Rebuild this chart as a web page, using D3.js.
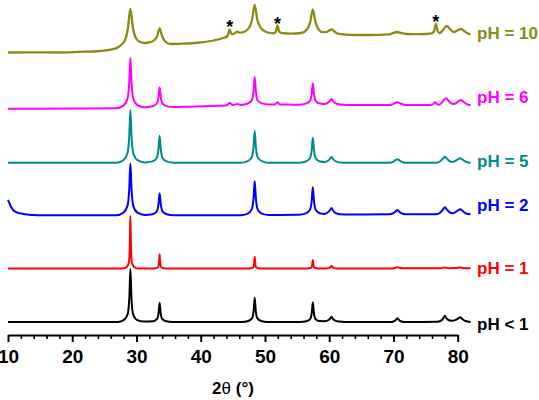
<!DOCTYPE html>
<html>
<head>
<meta charset="utf-8">
<script src="https://cdn.jsdelivr.net/npm/d3@7"></script>
<style>
  html, body { margin: 0; padding: 0; background: #fff; }
  svg { display: block; }
  text { font-family: Arial, "Liberation Sans", sans-serif; font-weight: bold; }
</style>
</head>
<body>
<svg id="chart" width="539" height="400"></svg>
<script>
// ---------- DATA ----------
const seriesLabels = ["pH < 1", "pH = 1", "pH = 2", "pH = 5", "pH = 6", "pH = 10"];
// vertical stacking offsets (a.u.)
const seriesOffsets = [13, 66.4, 119.7, 172.2, 226.3, 282.5];
const xTickValues = [10, 20, 30, 40, 50, 60, 70, 80];
const xMinorTickValues = [12,14,16,18,22,24,26,28,32,34,36,38,42,44,46,48,52,54,56,58,62,64,66,68,72,74,76,78];
// impurity peaks marked with * (2θ) on the pH = 10 pattern
const starPositions = [44.5, 51.95, 76.6];

// [2θ, intensity a.u.] relative to each series' baseline
const dataPHlt1 = [
  [10,0],[20,0],[27.05,0],[28.05,2.1],[28.65,8.5],[28.9,26.5],[29.05,53],[29.2,26.5],[29.45,8.5],[30.05,2.1],[31.1,0.4],
  [32.6,0.8],[33.2,3.1],[33.45,9.7],[33.6,19.3],[33.75,9.7],[34.0,3.1],[34.6,0.8],[35.6,0],
  [46.4,0],[47.4,1.0],[48.0,3.9],[48.25,12.2],[48.4,24.3],[48.55,12.2],[48.8,3.9],[49.4,1.0],[50.4,0],
  [55.45,0],[56.45,0.8],[57.05,3.2],[57.3,9.9],[57.45,19.7],[57.6,9.9],[57.85,3.2],[58.45,0.9],[59.3,0.8],
  [59.9,2.0],[60.2,3.8],[60.35,5.3],[60.5,3.8],[60.85,1.6],[61.5,0.4],[62.5,0],
  [69.6,0],[70.2,1.2],[70.45,2.8],[70.6,3.7],[70.75,2.8],[71.0,1.2],[71.7,0],
  [76.8,0.2],[77.4,1.4],[77.75,3.6],[78.0,6.3],[78.25,3.6],[78.65,1.8],[79.1,1.3],[79.6,1.9],[80.05,3.3],[80.4,4.7],[80.7,3.0],[81.2,1.0],[82,0]
];
const dataPH1 = [
  [10,0],[20,0],[27.85,0],[28.45,1.6],[28.83,6.3],[28.97,26.3],[29.05,52.6],[29.13,26.3],[29.27,6.3],[29.65,1.6],[30.25,0],
  [32.4,0],[33.0,0.4],[33.38,1.7],[33.52,7.2],[33.6,14.3],[33.68,7.2],[33.82,1.7],[34.2,0.4],[34.8,0],
  [47.2,0.1],[47.8,0.4],[48.18,1.4],[48.32,6],[48.4,11.9],[48.48,6],[48.62,1.4],[49.0,0.4],[49.6,0.1],
  [56.25,0.2],[56.85,0.4],[57.23,1.0],[57.37,4.3],[57.45,8.6],[57.53,4.3],[57.67,1.0],[58.05,0.4],[58.65,0.2],
  [59.6,0.2],[60.1,0.9],[60.35,2.9],[60.6,0.9],[61.1,0.2],
  [69.9,0.2],[70.6,1.3],[71.3,0.3],
  [77.3,0.3],[78.0,1.1],[78.7,0.4],[79.6,0.5],[80.4,1.0],[81.1,0.4],[82,0.3]
];
const dataPH2 = [
  [10,15.3],[10.2,12.5],[10.47,8.6],[11.1,3.6],[12.6,1.0],[13.9,0.3],[15,0],[26.85,0],
  [27.95,2.6],[28.6,9.4],[28.87,26],[29.05,52],[29.23,26],[29.5,9.4],[30.15,2.6],[31.25,0.3],
  [32.5,1.1],[33.15,4],[33.42,11],[33.6,22],[33.78,11],[34.05,4],[34.7,1.1],[35.8,0],
  [46.2,0],[47.3,1.7],[47.95,6.2],[48.22,17.2],[48.4,34.3],[48.58,17.2],[48.85,6.2],[49.5,1.7],[50.6,0.3],
  [55.25,0.5],[56.35,1.9],[57.0,5.5],[57.27,14.3],[57.45,28.1],[57.63,14.3],[57.9,5.5],[58.55,2.0],[59.3,1.4],
  [59.8,3.0],[60.15,5.3],[60.35,7.4],[60.55,5.3],[60.95,2.4],[61.7,1.0],[62.8,0.7],
  [69.3,1.0],[70.0,2.2],[70.35,4.0],[70.6,5.3],[70.85,4.0],[71.2,2.2],[71.9,1.0],
  [76.6,1.0],[77.3,2.8],[77.7,5.8],[78.0,8],[78.3,5.8],[78.75,3.0],[79.15,2.0],[79.6,3.0],[80.05,5.0],[80.4,6],[80.75,4.4],[81.3,1.8],[82,1]
];
const dataPH5 = [
  [10,0],[26.85,0],
  [27.95,2.6],[28.6,9.5],[28.87,26.4],[29.05,52.8],[29.23,26.4],[29.5,9.5],[30.15,2.6],[31.25,0.3],
  [32.5,1.4],[33.15,4.9],[33.42,13.6],[33.6,27.1],[33.78,13.6],[34.05,4.9],[34.7,1.4],[35.8,0],
  [46.2,0],[47.3,1.6],[47.95,5.7],[48.22,15.9],[48.4,31.8],[48.58,15.9],[48.85,5.7],[49.5,1.6],[50.6,0],
  [55.25,0],[56.35,1.3],[57.0,4.5],[57.27,12.6],[57.45,25.1],[57.63,12.6],[57.9,4.5],[58.55,1.3],[59.3,0.8],
  [59.8,2.0],[60.15,4.3],[60.35,6.1],[60.55,4.3],[60.95,1.8],[61.7,0.3],[62.8,0],
  [69.3,0],[70.0,1.2],[70.35,2.8],[70.6,3.5],[70.85,2.8],[71.2,1.2],[71.9,0],
  [76.6,0],[77.3,1.6],[77.7,4.3],[78.0,6.1],[78.3,4.3],[78.75,1.6],[79.15,0.8],[79.6,1.8],[80.05,3.5],[80.4,4.5],[80.75,3.2],[81.3,1.0],[82,0]
];
const dataPH6 = [
  [10,0],[20,0.1],[26.85,0.4],
  [27.95,3.1],[28.6,9.8],[28.87,25.9],[29.05,51],[29.23,25.9],[29.5,9.9],[30.15,3.6],[31.25,1.5],
  [32.5,2.5],[33.15,5.1],[33.42,11.5],[33.6,21.5],[33.78,11.5],[34.05,5.2],[34.7,2.6],[35.8,1.7],[38,2],[42,2.8],[43.8,3.2],
  [44.25,4.3],[44.5,6],[44.75,4.5],[45.1,3.8],[45.7,4.8],[46.2,3.8],
  [47.3,5.2],[47.95,8.3],[48.22,17.8],[48.4,31.8],[48.58,17.8],[48.85,8.4],[49.5,5.3],[50.6,4.3],
  [51.55,4.3],[51.95,6.4],[52.35,4.3],[54,4.1],
  [55.25,4.0],[56.35,5.1],[57.0,7.9],[57.27,14.7],[57.45,25.4],[57.63,14.7],[57.9,7.9],[58.55,5.1],[59.3,4.6],
  [59.8,6.2],[60.15,8.2],[60.35,9.7],[60.55,8.1],[60.95,5.6],[61.7,4.1],[62.8,3.7],
  [69.3,3.7],[70.0,4.8],[70.35,6.0],[70.6,6.4],[70.85,6.0],[71.2,4.9],[71.9,3.8],[75.6,3.7],
  [76.2,4.6],[76.5,6.4],[76.8,4.6],[77.1,4.0],
  [77.5,6.0],[77.85,8.8],[78.2,10.4],[78.5,8.5],[78.95,5.5],[79.35,4.7],[79.8,5.8],[80.15,7.6],[80.5,8.7],[80.85,7.2],[81.4,4.6],[82,3.4]
];
const dataPH10 = [
  [10,0],[14,0.2],[18,0],[21,0.6],[24.3,1.5],[26.0,2.8],[27.25,5.8],[28.15,11.5],[28.65,23.5],[29.05,43.5],[29.45,24.5],[29.95,14],[30.6,10.5],[31.3,9.5],
  [32.1,10.3],[32.7,12],[33.2,16],[33.6,24.2],[34.0,16],[34.5,11],[35.3,8.5],[37,8.8],[39.9,10],[42,12],[43.5,14.5],
  [44.1,16],[44.3,18.5],[44.5,23.2],[44.7,19.5],[45.0,18.3],[45.4,19.8],[45.7,20.8],[46.1,19.8],[46.7,20.5],
  [47.5,24.5],[48.0,33],[48.4,47.5],[48.8,33],[49.3,25],[50.2,20.5],[51.3,19.2],[51.7,21],[51.95,27],[52.2,21],[52.7,19.3],[54,18.8],
  [55.65,19.5],[56.55,23],[57.05,30.6],[57.45,43.2],[57.85,30.6],[58.35,23],[59.0,20.3],[59.6,20.4],[60.0,22],[60.35,23.2],[60.7,21.5],[61.3,18.8],
  [62.5,17.8],[64,17.5],[66,17.5],[69.4,18.2],[70.0,19.6],[70.6,20.5],[71.2,19.4],[72,18.5],[74,18.3],[75.8,18.8],
  [76.3,21],[76.6,28.5],[76.9,21],[77.2,19.4],[77.7,22.5],[78.3,26.5],[78.8,23.5],[79.4,20.3],[79.9,21.8],[80.5,23.5],[81.1,21],[81.6,19],[82,18.2]
];
const seriesData = [dataPHlt1, dataPH1, dataPH2, dataPH5, dataPH6, dataPH10];

// ---------- STYLE ----------
const seriesColors = ["#000000", "#ff0000", "#0000ff", "#008b8b", "#ff00ff", "#8a8a14"];
const lineWidths = [2, 2, 2, 2, 2, 2.3];
// label vertical shift (px) from the series' end point
const labelShift = [1.5, 0, -9.5, -1.5, -8.5, -1];

// ---------- DRAW ----------
const svg = d3.select("#chart");
const axisY = 335;
const x = d3.scaleLinear().domain([10, 80]).range([8, 457.7]);
const y = d3.scaleLinear().domain([0, 335]).range([335, 0]);

const line = d3.line()
  .x(d => x(d[0]))
  .y(d => y(d[1]))
  .curve(d3.curveMonotoneX);

seriesData.forEach((data, i) => {
  const off = seriesOffsets[i];
  svg.append("path")
    .datum(data.map(d => [d[0], d[1] + off]))
    .attr("fill", "none")
    .attr("stroke", seriesColors[i])
    .attr("stroke-width", lineWidths[i])
    .attr("stroke-linejoin", "round")
    .attr("d", line);

  const last = data[data.length - 1];
  svg.append("text")
    .attr("x", 477)
    .attr("y", y(last[1] + off) + labelShift[i] + 6)
    .attr("fill", seriesColors[i])
    .attr("font-size", 17)
    .text(seriesLabels[i]);
});

// stars above impurity peaks of pH = 10
starPositions.forEach(s => {
  const pt = dataPH10.reduce((a, b) => Math.abs(b[0] - s) < Math.abs(a[0] - s) ? b : a);
  svg.append("text")
    .attr("x", x(s))
    .attr("y", y(pt[1] + seriesOffsets[5]) + 4)
    .attr("text-anchor", "middle")
    .attr("font-size", 18)
    .attr("fill", "#000")
    .text("*");
});

// x axis
const gMinor = svg.append("g").attr("transform", `translate(0,${axisY})`)
  .call(d3.axisBottom(x).tickValues(xMinorTickValues).tickSize(4).tickSizeOuter(0).tickFormat(""));
gMinor.select(".domain").remove();
gMinor.selectAll("line").attr("stroke", "#000").attr("stroke-width", 1.6);

const gAxis = svg.append("g").attr("transform", `translate(0,${axisY})`)
  .call(d3.axisBottom(x).tickValues(xTickValues).tickSize(7).tickSizeOuter(0).tickFormat(d3.format("d")));
gAxis.select(".domain").attr("stroke", "#000").attr("stroke-width", 2);
gAxis.selectAll("line").attr("stroke", "#000").attr("stroke-width", 2);
gAxis.selectAll("text")
  .attr("y", 27.5).attr("dy", 0)
  .attr("fill", "#000")
  .attr("font-size", 19)
  .attr("font-weight", "bold")
  .attr("font-family", "Arial, 'Liberation Sans', sans-serif");

// axis title
const title = svg.append("text")
  .attr("x", 233).attr("y", 394)
  .attr("text-anchor", "middle")
  .attr("font-size", 17)
  .attr("fill", "#000");
title.append("tspan").text("2");
title.append("tspan").attr("font-weight", "normal").text("θ");
title.append("tspan").text(" (°)");
</script>
</body>
</html>
